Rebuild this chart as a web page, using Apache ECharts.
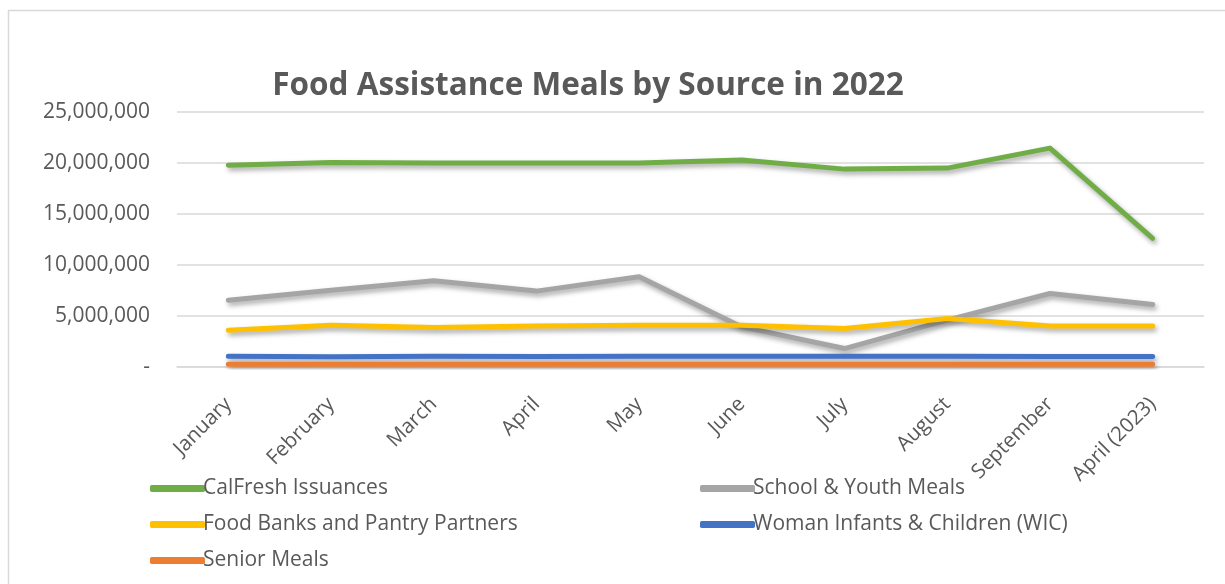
<!DOCTYPE html>
<html>
<head>
<meta charset="utf-8">
<script src="https://cdn.jsdelivr.net/npm/echarts@6/dist/echarts.min.js"></script>
<style>
  html, body { margin: 0; padding: 0; background: #fff; }
  #chart { width: 1225px; height: 584px; }
</style>
</head>
<body>
<div id="chart"></div>
<script>
// Months on the category axis
const months = ['January', 'February', 'March', 'April', 'May', 'June', 'July', 'August', 'September', 'April (2023)'];

// Meals per month, by source
const calFresh   = [19790000, 20050000, 19990000, 20000000, 20000000, 20300000, 19400000, 19500000, 21460000, 12620000];
const schoolMeals = [6550000, 7530000, 8450000, 7440000, 8850000, 3930000, 1810000, 4590000, 7210000, 6130000];
const foodBanks  = [3600000, 4100000, 3870000, 4030000, 4100000, 4100000, 3770000, 4750000, 4030000, 4030000];
const wic        = [1050000, 1000000, 1050000, 1030000, 1050000, 1050000, 1050000, 1050000, 1030000, 1030000];
const senior     = [270000, 270000, 280000, 280000, 280000, 280000, 280000, 280000, 280000, 280000];

// Y axis ticks
const yTicks = { min: 0, max: 25000000, interval: 5000000 };

const FONT = '"Open Sans", sans-serif';
const TEXT = '#595959';

const seriesDefs = [
  { name: 'CalFresh Issuances', data: calFresh, color: '#70AD47' },
  { name: 'School & Youth Meals', data: schoolMeals, color: '#A5A5A5' },
  { name: 'Food Banks and Pantry Partners', data: foodBanks, color: '#FFC000' },
  { name: 'Woman Infants & Children (WIC)', data: wic, color: '#4472C4' },
  { name: 'Senior Meals', data: senior, color: '#ED7D31' }
];

const chart = echarts.init(document.getElementById('chart'), null, { renderer: 'canvas' });

const legendCommon = {
  orient: 'vertical',
  icon: 'roundRect',
  itemWidth: 55,
  itemHeight: 7,
  itemGap: 15,
  textStyle: { fontFamily: FONT, fontSize: 21, color: TEXT, lineHeight: 21, padding: [0, 0, 0, -7] },
  selectedMode: false
};

chart.setOption({
  animation: false,
  backgroundColor: '#fff',
  textStyle: { fontFamily: FONT },
  title: {
    text: 'Food Assistance Meals by Source in 2022',
    left: 583,
    textAlign: 'center',
    top: 65,
    textStyle: { fontFamily: FONT, fontSize: 31.5, fontWeight: 'bold', color: TEXT }
  },
  graphic: [{
    type: 'rect',
    shape: { x: 8.5, y: 10.5, width: 1400, height: 800 },
    style: { fill: 'none', stroke: '#d9d9d9', lineWidth: 1.5 },
    silent: true,
    z: -1
  }],
  legend: [
    Object.assign({}, legendCommon, {
      left: 145, top: 473,
      data: ['CalFresh Issuances', 'Food Banks and Pantry Partners', 'Senior Meals']
    }),
    Object.assign({}, legendCommon, {
      left: 695, top: 473,
      data: ['School & Youth Meals', 'Woman Infants & Children (WIC)']
    })
  ],
  grid: { left: 177, right: 21, top: 112, bottom: 217, containLabel: false },
  xAxis: {
    type: 'category',
    data: months,
    boundaryGap: true,
    axisLine: { show: true, lineStyle: { color: '#d9d9d9', width: 1.5 } },
    axisTick: { show: false },
    axisLabel: {
      rotate: 45,
      interval: 0,
      margin: 34,
      fontFamily: FONT,
      fontSize: 20.5,
      color: TEXT
    }
  },
  yAxis: {
    type: 'value',
    min: yTicks.min,
    max: yTicks.max,
    interval: yTicks.interval,
    axisLine: { show: false },
    axisTick: { show: false },
    splitLine: { lineStyle: { color: '#d9d9d9', width: 1.5 } },
    axisLabel: {
      margin: 27,
      fontFamily: FONT,
      fontSize: 21,
      color: TEXT,
      formatter: v => v === 0 ? '-' : v.toLocaleString('en-US')
    }
  },
  series: seriesDefs.map(s => ({
    name: s.name,
    type: 'line',
    data: s.data,
    symbol: 'none',
    smooth: false,
    color: s.color,
    lineStyle: {
      width: 5,
      color: s.color,
      cap: 'round',
      join: 'round',
      shadowColor: 'rgba(0,0,0,0.35)',
      shadowBlur: 5,
      shadowOffsetX: 2,
      shadowOffsetY: 3
    },
    emphasis: { disabled: true }
  }))
});
</script>
</body>
</html>
